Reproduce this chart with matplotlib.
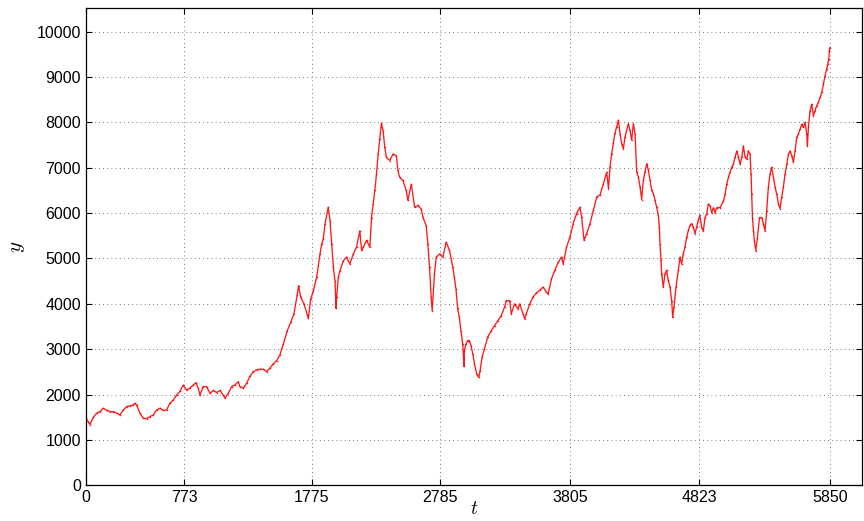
import matplotlib.pyplot as plt

### values

t = [0, 18, 31, 58, 84, 110, 136, 162, 189, 215, 241, 267, 293, 320, 346, 372, 385,
     398, 424, 451, 477, 503, 529, 555, 582, 608, 634, 660, 686, 713, 739, 765, 791,
     817, 844, 865, 883, 896, 922, 948, 975, 1001, 1027, 1053, 1079, 1093, 1119, 1145,
     1171, 1197, 1210, 1237, 1263, 1289, 1315, 1341, 1368, 1394, 1420, 1446, 1472,
     1499, 1525, 1551, 1583, 1609, 1635, 1661, 1671, 1688, 1714, 1740, 1749, 1766,
     1788, 1814, 1840, 1853, 1866, 1879, 1905, 1919, 1932, 1945, 1958, 1966, 1971,
     1984, 1997, 2023, 2049, 2075, 2102, 2127, 2153, 2167, 2180, 2206, 2232, 2245,
     2258, 2271, 2284, 2297, 2310, 2323, 2336, 2349, 2362, 2388, 2414, 2440, 2453,
     2466, 2492, 2518, 2531, 2558, 2584, 2610, 2636, 2649, 2675, 2688, 2701, 2714,
     2722, 2740, 2754, 2780, 2806, 2832, 2858, 2884, 2896, 2909, 2922, 2935, 2948,
     2962, 2972, 2975, 2988, 3001, 3014, 3027, 3041, 3054, 3072, 3088, 3099, 3114,
     3133, 3159, 3186, 3212, 3238, 3265, 3291, 3304, 3331, 3344, 3370, 3396, 3410,
     3436, 3449, 3462, 3489, 3515, 3541, 3568, 3594, 3620, 3634, 3660, 3686, 3713,
     3739, 3752, 3778, 3805, 3831, 3857, 3884, 3897, 3916, 3937, 3963, 3989, 4016,
     4042, 4068, 4094, 4108, 4120, 4133, 4146, 4159, 4172, 4186, 4199, 4212, 4225,
     4238, 4264, 4277, 4290, 4304, 4317, 4330, 4343, 4356, 4369, 4382, 4395, 4409,
     4422, 4435, 4448, 4461, 4474, 4487, 4500, 4508, 4513, 4521, 4526, 4539, 4552,
     4565, 4578, 4592, 4605, 4613, 4623, 4639, 4657, 4670, 4683, 4696, 4709, 4723,
     4736, 4749, 4762, 4775, 4788, 4801, 4814, 4827, 4841, 4854, 4867, 4880, 4893,
     4907, 4920, 4933, 4946, 4959, 4985, 5012, 5025, 5038, 5051, 5064, 5077, 5090,
     5103, 5117, 5130, 5143, 5156, 5169, 5182, 5195, 5208, 5221, 5229, 5234, 5240,
     5248, 5255, 5266, 5279, 5295, 5313, 5326, 5339, 5352, 5365, 5378, 5391, 5405,
     5418, 5431, 5444, 5457, 5470, 5483, 5496, 5510, 5523, 5536, 5549, 5562, 5575,
     5588, 5601, 5614, 5628, 5641, 5654, 5667, 5672, 5680, 5693, 5706, 5719, 5732,
     5745, 5758, 5772, 5785, 5798, 5811, 5824, 5832, 5840, 5845, 5850]

y = [1480, 1400, 1340, 1500, 1590, 1625, 1700, 1650, 1625, 1625, 1590, 1550, 1660,
     1735, 1750, 1770, 1810, 1770, 1590, 1480, 1470, 1515, 1550, 1660, 1700, 1650,
     1660, 1810, 1880, 1990, 2070, 2210, 2100, 2140, 2210, 2265, 2140, 1990, 2175,
     2175, 2030, 2090, 2045, 2090, 1990, 1920, 2030, 2175, 2210, 2285, 2175, 2140,
     2250, 2400, 2505, 2545, 2560, 2560, 2505, 2580, 2675, 2750, 2875, 3110, 3410,
     3590, 3780, 4200, 4400, 4150, 4000, 3760, 3680, 4100, 4290, 4590, 5100, 5320,
     5430, 5760, 6130, 5830, 5320, 4810, 4510, 3900, 4150, 4590, 4730, 4950, 5030,
     4880, 5100, 5250, 5610, 5180, 5250, 5400, 5250, 5900, 6200, 6500, 6860, 7300,
     7630, 7980, 7820, 7450, 7230, 7160, 7300, 7270, 6940, 6790, 6720, 6500, 6280,
     6640, 6130, 6170, 6090, 5910, 5720, 5320, 4810, 4150, 3850, 4660, 5030, 5100,
     5030, 5360, 5180, 4810, 4590, 4330, 3900, 3710, 3410, 3120, 2620, 2970, 3120,
     3190, 3190, 3080, 2900, 2680, 2450, 2380, 2530, 2820, 3010, 3270, 3410, 3520,
     3630, 3740, 3930, 4070, 4070, 3780, 4000, 3890, 4000, 3780, 3670, 3780, 4000,
     4150, 4240, 4300, 4370, 4260, 4220, 4550, 4740, 4920, 5030, 4880, 5250, 5470,
     5770, 5990, 6130, 5910, 5400, 5550, 5770, 6060, 6360, 6400, 6650, 6900, 6540,
     7020, 7310, 7540, 7760, 7900, 8050, 7750, 7530, 7420, 7680, 7970, 7830, 7610,
     7970, 7750, 6910, 6800, 6580, 6300, 6720, 6910, 7090, 6940, 6720, 6500, 6430,
     6280, 6130, 5950, 5690, 5330, 4960, 4660, 4370, 4660, 4740, 4520, 4370, 4070,
     3700, 3930, 4370, 4740, 5030, 4880, 5100, 5250, 5470, 5620, 5730, 5770, 5690,
     5550, 5690, 5840, 5950, 5680, 5610, 5900, 5980, 6200, 6160, 6010, 6120, 6010,
     6120, 6120, 6270, 6420, 6640, 6790, 6900, 7010, 7080, 7230, 7370, 7230, 7080,
     7230, 7480, 7230, 7190, 7370, 7300, 6860, 6420, 5900, 5610, 5390, 5170, 5460,
     5900, 5900, 5760, 5610, 6050, 6570, 6860, 7010, 6790, 6570, 6420, 6200, 6100,
     6350, 6570, 6860, 7080, 7300, 7370, 7260, 7120, 7370, 7670, 7740, 7850, 7960,
     7890, 8000, 7740, 7480, 7890, 8260, 8400, 8150, 8260, 8370, 8440, 8550, 8660,
     8840, 9030, 9180, 9290, 9400, 9580, 9650]

xtick_vals = [0, 773, 1775, 2785, 3805, 4823, 5850]
ytick_vals = [0, 1000, 2000, 3000, 4000, 5000, 6000, 7000, 8000, 9000, 10000]

### plot

plt.rcParams['font.family'] = ['Liberation Sans', 'DejaVu Sans']
plt.rcParams['mathtext.fontset'] = 'cm'

fig = plt.figure(figsize=(8.64, 5.21), dpi=100)
ax = fig.add_axes([0.0995, 0.0685, 0.898, 0.916])

ax.plot(t, y, color='red', lw=0.95, alpha=0.9, marker='.', ms=2.2, mec='red', mew=0)

ax.set_xlim(0, 6100)
ax.set_ylim(0, 10520)
ax.set_xticks(xtick_vals)
ax.set_yticks(ytick_vals)
ax.tick_params(direction='in', top=True, right=True, length=4, width=0.8,
               labelsize=11.5, colors='black')
for s in ax.spines.values():
    s.set_linewidth(0.9)

ax.grid(True, color='black', lw=0.6, linestyle=(0, (1, 4)), alpha=0.7)

ax.set_xlabel(r'$t$', fontsize=14, labelpad=-3)
ax.set_ylabel(r'$y$', fontsize=15, labelpad=7)

fig.savefig('out.png', dpi=100)
